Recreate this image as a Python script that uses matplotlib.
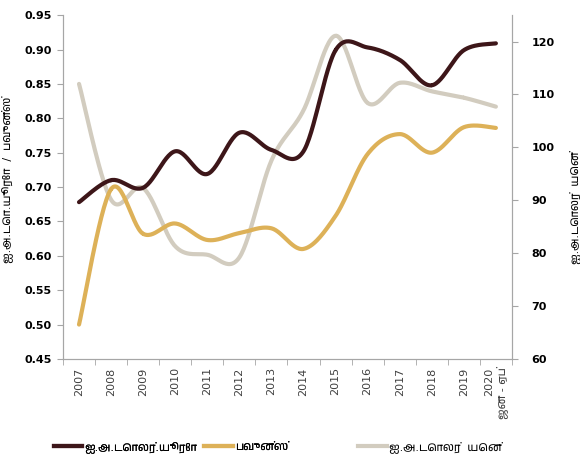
import numpy as np
import matplotlib
matplotlib.use('Agg')
from matplotlib import pyplot as plt
from matplotlib import font_manager
from matplotlib.ft2font import FT2Font
from matplotlib.lines import Line2D

# pick any installed font that has Tamil glyphs, fall back to DejaVu
tamil = []
for f in font_manager.fontManager.ttflist:
    try:
        if 0x0B85 in FT2Font(f.fname).get_charmap():
            tamil.append(f.name)
    except Exception:
        pass
plt.rcParams['font.family'] = ['DejaVu Sans'] + sorted(set(tamil))

years = ['2007', '2008', '2009', '2010', '2011', '2012', '2013', '2014',
         '2015', '2016', '2017', '2018', '2019', '2020\nஜன - ஏப்']
usd_eur = [0.678, 0.710, 0.699, 0.752, 0.719, 0.779, 0.754, 0.752,
           0.899, 0.903, 0.885, 0.848, 0.899, 0.909]
usd_gbp = [0.500, 0.697, 0.632, 0.647, 0.623, 0.633, 0.640, 0.610,
           0.658, 0.748, 0.777, 0.750, 0.787, 0.786]
usd_jpy = [112.0, 90.1, 92.3, 81.3, 79.7, 79.2, 97.5, 107.0,
           121.1, 108.4, 112.2, 110.6, 109.4, 107.7]

brown = '#3d1619'
gold = '#ddb158'
grey = '#d2ccbf'
axcol = '#a6a6a6'


def smooth(y, n=30):
    # catmull-rom curve through the points, like excel's smoothed line
    x = np.arange(len(y), dtype=float)
    y = np.asarray(y, dtype=float)
    px = np.r_[x[0], x, x[-1]]
    py = np.r_[y[0], y, y[-1]]
    t = np.linspace(0, 1, n)
    xs, ys = [], []
    for i in range(len(x) - 1):
        for p, out in ((px, xs), (py, ys)):
            p0, p1, p2, p3 = p[i], p[i + 1], p[i + 2], p[i + 3]
            out.append(0.5 * (2 * p1 + (-p0 + p2) * t
                              + (2 * p0 - 5 * p1 + 4 * p2 - p3) * t ** 2
                              + (-p0 + 3 * p1 - 3 * p2 + p3) * t ** 3))
    return np.concatenate(xs), np.concatenate(ys)


fig = plt.figure(figsize=(5.8, 4.59), dpi=100)
ax = fig.add_axes([0.1086, 0.218, 0.774, 0.749])
ax2 = ax.twinx()

ax.plot(*smooth(usd_eur), c=brown, lw=3, solid_capstyle='round', zorder=3)
ax.plot(*smooth(usd_gbp), c=gold, lw=3, solid_capstyle='round', zorder=2)
ax2.plot(*smooth(usd_jpy), c=grey, lw=3, solid_capstyle='round', zorder=1)
ax.set_zorder(ax2.get_zorder() + 1)
ax.patch.set_visible(False)

ax.set_xlim(-0.5, len(years) - 0.5)
ax.set_ylim(0.45, 0.95)
ax2.set_ylim(60, 125)
ax.set_yticks(np.arange(0.45, 0.951, 0.05))
ax.set_yticklabels(['%.2f' % v for v in np.arange(0.45, 0.951, 0.05)],
                   fontsize=8, fontweight='bold')
ax2.set_yticks(np.arange(60, 121, 10))
ax2.set_yticklabels([str(v) for v in range(60, 121, 10)],
                    fontsize=8, fontweight='bold')

ax.set_xticks(np.arange(len(years)))
ax.set_xticklabels(years, rotation=90, fontsize=8, color='#404040',
                   multialignment='right')
ax.set_xticks(np.arange(len(years) + 1) - 0.5, minor=True)
ax.tick_params(axis='x', which='major', length=0, pad=6)
ax.tick_params(axis='x', which='minor', length=4, color=axcol)
ax.tick_params(axis='y', length=4, color=axcol, pad=4)
ax2.tick_params(axis='y', length=4, color=axcol, pad=10)

for a in (ax, ax2):
    a.spines['top'].set_visible(False)
    for s in ('left', 'right', 'bottom'):
        a.spines[s].set_color(axcol)

ax.set_ylabel('ஐ.அ.டொ.யூரோ  /  பவுன்ஸ்', fontsize=8)
ax.yaxis.set_label_coords(-0.112, 0.52)
ax2.set_ylabel('ஐ.அ.டொலர்  யென்', fontsize=8, rotation=90)
ax2.yaxis.set_label_coords(1.128, 0.44)

h1 = Line2D([], [], c=brown, lw=3)
h2 = Line2D([], [], c=gold, lw=3)
h3 = Line2D([], [], c=grey, lw=3)
leg = fig.legend([h1, h2], ['ஐ.அ.டொலர்.யூரோ', 'பவுன்ஸ்'],
                 loc='center left', bbox_to_anchor=(0.075, 0.026), ncol=2,
                 frameon=False, fontsize=8, handlelength=2.6,
                 handletextpad=0.2, columnspacing=0.6)
fig.add_artist(leg)
fig.legend([h3], ['ஐ.அ.டொலர்  யென்'],
           loc='center left', bbox_to_anchor=(0.6, 0.026),
           frameon=False, fontsize=8, handlelength=2.6, handletextpad=0.2)

fig.savefig('out.png', dpi=100)
